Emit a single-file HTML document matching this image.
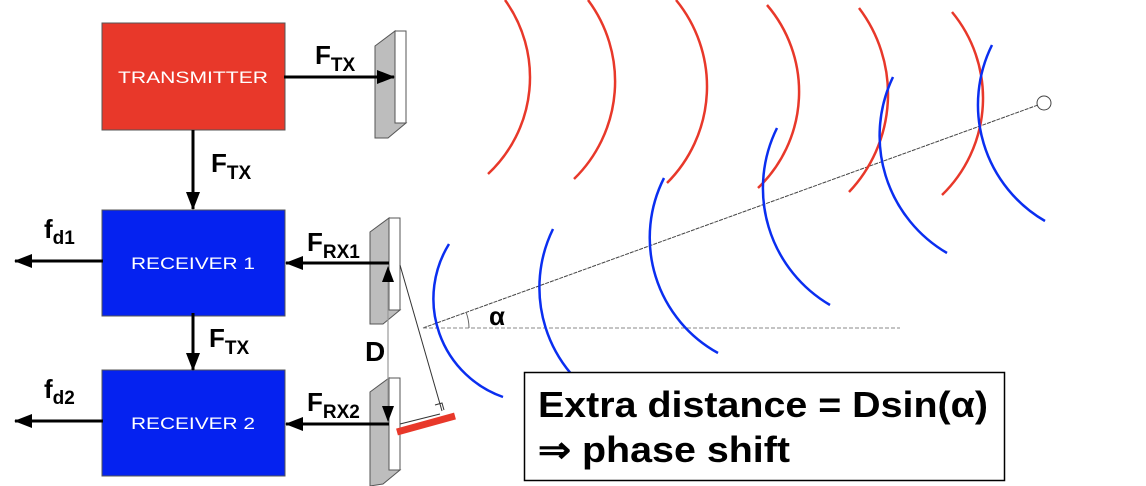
<!DOCTYPE html>
<html><head><meta charset="utf-8"><style>
html,body{margin:0;padding:0;background:#fff;}
svg{display:block;}
text{font-family:"Liberation Sans",sans-serif;}
</style></head><body>
<svg id="svg" width="1146" height="486" viewBox="0 0 1146 486" xmlns="http://www.w3.org/2000/svg">
<defs>
<marker id="ah" markerWidth="18" markerHeight="14" refX="17" refY="7" orient="auto" markerUnits="userSpaceOnUse" viewBox="0 0 18 14"><path d="M0,0 L18,7 L0,14 z" fill="#000"/></marker>
</defs>
<g>
<rect x="102" y="23" width="183" height="107" fill="#e8382a" stroke="#555" stroke-width="1"/>
<text x="193" y="83" fill="#fff" font-size="17" text-anchor="middle" textLength="150" lengthAdjust="spacingAndGlyphs">TRANSMITTER</text>
</g>
<g>
<rect x="102" y="210" width="183" height="106" fill="#0522f0" stroke="#555" stroke-width="1"/>
<text x="193" y="269" fill="#fff" font-size="17" text-anchor="middle" textLength="124" lengthAdjust="spacingAndGlyphs">RECEIVER 1</text>
</g>
<g>
<rect x="102" y="370" width="183" height="106" fill="#0522f0" stroke="#555" stroke-width="1"/>
<text x="193" y="429" fill="#fff" font-size="17" text-anchor="middle" textLength="124" lengthAdjust="spacingAndGlyphs">RECEIVER 2</text>
</g>
<g>
<polygon points="375,46 395,31 395,123 406,123 388,138 375,138" fill="#bdbdbd" stroke="#555" stroke-width="1"/>
<rect x="395" y="31" width="11" height="92" fill="#fff" stroke="#555" stroke-width="1"/>
</g>
<g>
<polygon points="370,232 389,218 389,310 400,310 383,324 370,324" fill="#bdbdbd" stroke="#555" stroke-width="1"/>
<rect x="389" y="218" width="11" height="92" fill="#fff" stroke="#555" stroke-width="1"/>
</g>
<g>
<polygon points="370,392 389,378 389,470 400,470 383,484 370,486" fill="#bdbdbd" stroke="#555" stroke-width="1"/>
<rect x="389" y="378" width="11" height="92" fill="#fff" stroke="#555" stroke-width="1"/>
</g>
<g stroke="#000" stroke-width="3" fill="none" marker-end="url(#ah)">
<line x1="284" y1="77" x2="394" y2="77"/>
<line x1="193" y1="130" x2="193" y2="209"/>
<line x1="193" y1="313" x2="193" y2="370"/>
<line x1="389" y1="263" x2="286" y2="263"/>
<line x1="389" y1="424" x2="286" y2="424"/>
<line x1="103" y1="261" x2="15" y2="261"/>
<line x1="103" y1="421" x2="15" y2="421"/>
</g>
<line x1="388" y1="275" x2="388" y2="412" stroke="#999" stroke-width="1.2"/>
<path d="M388,266 L382,282 L394,282 z" fill="#000"/>
<path d="M388,422 L382,406 L394,406 z" fill="#000"/>
<g font-weight="bold" fill="#000">
<text x="315" y="64" font-size="26">F<tspan font-size="19" dy="7">TX</tspan></text>
<text x="211" y="172" font-size="26">F<tspan font-size="19" dy="7">TX</tspan></text>
<text x="209" y="347" font-size="26">F<tspan font-size="19" dy="7">TX</tspan></text>
<text x="307" y="251" font-size="26">F<tspan font-size="19" dy="7">RX1</tspan></text>
<text x="307" y="411" font-size="26">F<tspan font-size="19" dy="7">RX2</tspan></text>
<text x="44" y="238" font-size="26">f<tspan font-size="19" dy="6">d1</tspan></text>
<text x="44" y="398" font-size="26">f<tspan font-size="19" dy="6">d2</tspan></text>
<text x="365" y="361" font-size="28">D</text>
<text x="489" y="325" font-size="26">α</text>
</g>
<line x1="423" y1="328" x2="1038" y2="105" stroke="#444" stroke-width="1" stroke-dasharray="4,1"/>
<circle cx="1044" cy="103" r="7" fill="none" stroke="#444" stroke-width="1"/>
<line x1="423" y1="328" x2="900" y2="328" stroke="#888" stroke-width="1" stroke-dasharray="4,2"/>
<path d="M469,328 A46,46 0 0 0 466,312" fill="none" stroke="#666" stroke-width="1"/>
<line x1="400" y1="265" x2="442" y2="411" stroke="#333" stroke-width="1"/>
<line x1="400" y1="424" x2="440" y2="414" stroke="#333" stroke-width="1"/>
<path d="M435,405 L442,403 L444,410" fill="none" stroke="#333" stroke-width="1"/>
<line x1="397" y1="432" x2="455" y2="416" stroke="#e8382a" stroke-width="7"/>
<g id="waves" fill="none" stroke-width="2.5"></g>
<g>
<rect x="524.5" y="372.5" width="480" height="108" fill="#fff" stroke="#000" stroke-width="1.5"/>
<text x="538" y="417" font-size="36" font-weight="bold" textLength="450" lengthAdjust="spacingAndGlyphs">Extra distance = Dsin(α)</text>
<text x="538" y="462" font-size="36" font-weight="bold" textLength="252" lengthAdjust="spacingAndGlyphs">⇒ phase shift</text>
</g>
</svg>
<script>
var redStarts=[[505,0],[588,0],[676,0],[767,5],[859,8],[952,12]];
var redMids=[[530,77],[615,77],[707,88],[799,96],[888,96],[983,100]];
var redEnds=[[488,174],[574,179],[667,183],[758,188],[849,192],[942,195]];
var blueStarts=[[449,244],[553,229],[664,178],[777,128],[893,77],[992,45]];
var blueMids=[[434,310],[540,300],[650,246],[763,192],[880,146],[978,108]];
var blueEnds=[[503,397],[608,404],[718,353],[830,305],[947,253],[1045,221]];
function arcPath(a,b,c){
  var ax=a[0],ay=a[1],bx=b[0],by=b[1],cx=c[0],cy=c[1];
  var d=2*(ax*(by-cy)+bx*(cy-ay)+cx*(ay-by));
  var ux=((ax*ax+ay*ay)*(by-cy)+(bx*bx+by*by)*(cy-ay)+(cx*cx+cy*cy)*(ay-by))/d;
  var uy=((ax*ax+ay*ay)*(cx-bx)+(bx*bx+by*by)*(ax-cx)+(cx*cx+cy*cy)*(bx-ax))/d;
  var r=Math.hypot(ax-ux,ay-uy);
  var cross=(bx-ax)*(cy-ay)-(by-ay)*(cx-ax);
  var sweep=cross>0?1:0;
  return "M"+ax+","+ay+" A"+r.toFixed(1)+","+r.toFixed(1)+" 0 0 "+sweep+" "+cx+","+cy;
}
var g=document.getElementById('waves');
function draw(s,m,e,color,prefix){
  for(var i=0;i<s.length;i++){
    var p=document.createElementNS('http://www.w3.org/2000/svg','path');
    p.setAttribute('d',arcPath(s[i],m[i],e[i]));
    p.setAttribute('stroke',color);
    
    
    g.appendChild(p);
  }
}
draw(redStarts,redMids,redEnds,'#e8382a','red-wave');
draw(blueStarts,blueMids,blueEnds,'#0a2ef0','blue-wave');
</script>
</body></html>
